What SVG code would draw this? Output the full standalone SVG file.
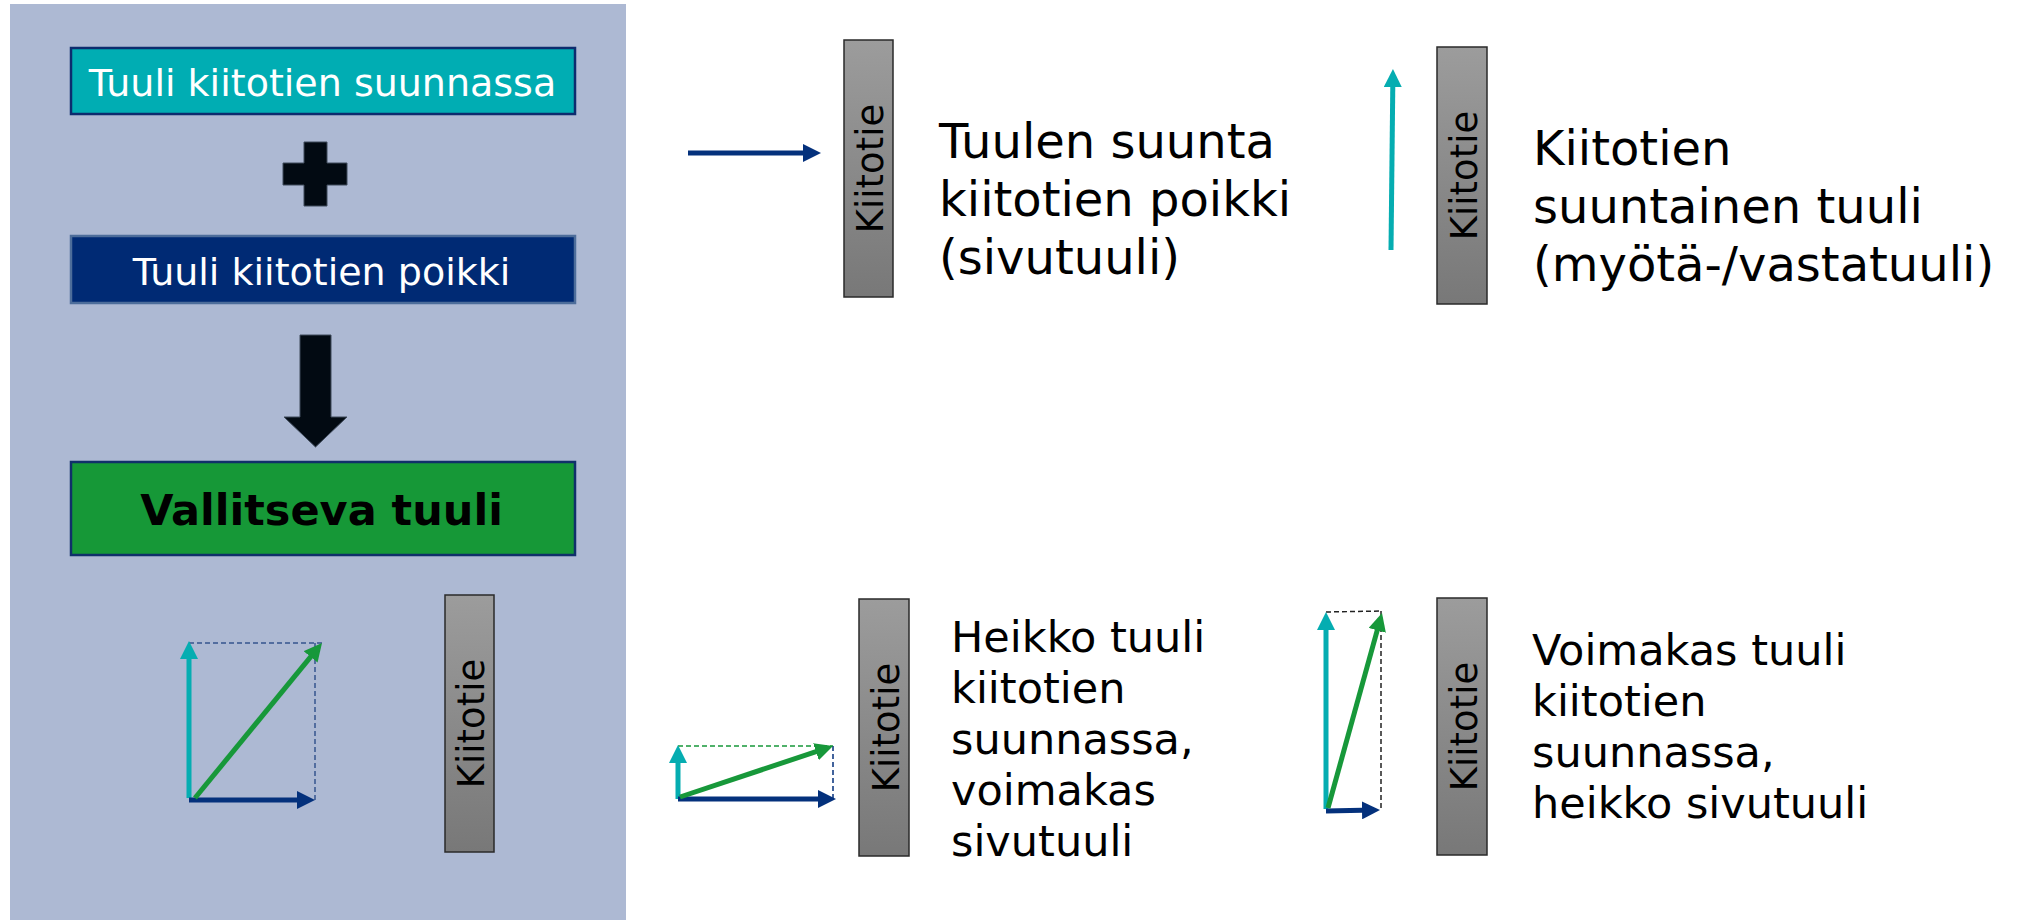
<svg xmlns="http://www.w3.org/2000/svg" width="2023" height="920" viewBox="0 0 2023 920">
  <style>
    .t { font-family: "DejaVu Sans", Verdana, sans-serif; }
    .box-text { font-size: 38px; fill: #ffffff; text-anchor: middle; }
    .big { font-size: 48px; fill: #000000; }
    .mid { font-size: 43px; fill: #000000; }
    .rw { stroke: #2a2a2a; stroke-width: 1.5; fill: url(#rwGrad); }
    .rw-text { font-size: 37px; fill: #000000; text-anchor: middle; }
    .v { fill: none; stroke-width: 5; stroke-linecap: butt; }
    .teal { stroke: #05adb1; }
    .navy { stroke: #04317c; }
    .green { stroke: #17983a; }
    .dash { fill: none; stroke-width: 1.5; stroke-dasharray: 5 3; }
  </style>
  <defs>
    <linearGradient id="rwGrad" x1="0" y1="0" x2="0" y2="1">
      <stop offset="0" stop-color="#9c9c9c"/>
      <stop offset="1" stop-color="#787878"/>
    </linearGradient>
    <marker id="hTeal" markerUnits="userSpaceOnUse" markerWidth="18" markerHeight="18" viewBox="0 0 18 18" refX="12" refY="9" orient="auto">
      <path d="M0,0 L18,9 L0,18 Z" fill="#05adb1"/>
    </marker>
    <marker id="hNavy" markerUnits="userSpaceOnUse" markerWidth="18" markerHeight="18" viewBox="0 0 18 18" refX="12" refY="9" orient="auto">
      <path d="M0,0 L18,9 L0,18 Z" fill="#04317c"/>
    </marker>
    <marker id="hGreen" markerUnits="userSpaceOnUse" markerWidth="18" markerHeight="18" viewBox="0 0 18 18" refX="12" refY="9" orient="auto">
      <path d="M0,0 L18,9 L0,18 Z" fill="#17983a"/>
    </marker>
  </defs>

  <rect x="0" y="0" width="2023" height="920" fill="#ffffff"/>

  <!-- left panel -->
  <rect id="panel" x="10" y="4" width="616" height="916" fill="#adb9d3"/>

  <g id="box-along">
    <rect x="71" y="48" width="504" height="66" fill="#00adb3" stroke="#0d2c6e" stroke-width="2.5"/>
    <text class="t box-text" x="322.5" y="96">Tuuli kiitotien suunnassa</text>
  </g>

  <g id="plus">
    <path d="M304,142 H327 V163 H347 V185 H327 V206 H304 V185 H283 V163 H304 Z" fill="#020a12" stroke="#3e4a5a" stroke-width="1"/>
  </g>

  <g id="box-cross">
    <rect x="71" y="236" width="504" height="67" fill="#002a74" stroke="#4d6d9a" stroke-width="2.5"/>
    <text class="t box-text" x="321.5" y="285">Tuuli kiitotien poikki</text>
  </g>

  <g id="result-arrow">
    <path d="M300,335 H331 V417 H347 L315.5,447 L284,417 H300 Z" fill="#020a12" stroke="#3e4a5a" stroke-width="1"/>
  </g>

  <g id="box-result">
    <rect x="71" y="462" width="504" height="93" fill="#169837" stroke="#10306a" stroke-width="2.5"/>
    <text class="t" x="321.5" y="525" font-size="43" font-weight="bold" fill="#000000" text-anchor="middle">Vallitseva tuuli</text>
  </g>

  <!-- runways -->
  <g id="runway-panel">
    <rect class="rw" x="445" y="595" width="49" height="257"/>
    <text class="t rw-text" x="469.5" y="738" transform="rotate(-90 469.5 723.5)">Kiitotie</text>
  </g>
  <g id="runway-cross">
    <rect class="rw" x="844" y="40" width="49" height="257"/>
    <text class="t rw-text" x="868.5" y="183" transform="rotate(-90 868.5 168.5)">Kiitotie</text>
  </g>
  <g id="runway-along">
    <rect class="rw" x="1437" y="47" width="50" height="257"/>
    <text class="t rw-text" x="1462" y="190" transform="rotate(-90 1462 175.5)">Kiitotie</text>
  </g>
  <g id="runway-weak">
    <rect class="rw" x="859" y="599" width="50" height="257"/>
    <text class="t rw-text" x="884" y="742" transform="rotate(-90 884 727.5)">Kiitotie</text>
  </g>
  <g id="runway-strong">
    <rect class="rw" x="1437" y="598" width="50" height="257"/>
    <text class="t rw-text" x="1462" y="741" transform="rotate(-90 1462 726.5)">Kiitotie</text>
  </g>

  <!-- captions -->
  <g id="caption-cross">
    <text class="t big" x="939" y="158">Tuulen suunta</text>
    <text class="t big" x="939" y="216">kiitotien poikki</text>
    <text class="t big" x="939" y="274">(sivutuuli)</text>
  </g>
  <g id="caption-along">
    <text class="t big" x="1533" y="165">Kiitotien</text>
    <text class="t big" x="1533" y="223">suuntainen tuuli</text>
    <text class="t big" x="1533" y="281">(myötä-/vastatuuli)</text>
  </g>
  <g id="caption-weak">
    <text class="t mid" x="951" y="652">Heikko tuuli</text>
    <text class="t mid" x="951" y="703">kiitotien</text>
    <text class="t mid" x="951" y="754">suunnassa,</text>
    <text class="t mid" x="951" y="805">voimakas</text>
    <text class="t mid" x="951" y="856">sivutuuli</text>
  </g>
  <g id="caption-strong">
    <text class="t mid" x="1532" y="665">Voimakas tuuli</text>
    <text class="t mid" x="1532" y="716">kiitotien</text>
    <text class="t mid" x="1532" y="767">suunnassa,</text>
    <text class="t mid" x="1532" y="818">heikko sivutuuli</text>
  </g>

  <!-- wind vectors -->
  <g id="connectors">
    <!-- panel: component sum -->
    <path class="dash" stroke="#34548f" d="M189,643 H322 M315,643 V800"/>
    <path class="v teal" d="M189,798 V647" marker-end="url(#hTeal)"/>
    <path class="v navy" d="M189,800 H309" marker-end="url(#hNavy)"/>
    <path class="v green" d="M195,798 L318.2,647.6" marker-end="url(#hGreen)"/>

    <!-- crosswind only -->
    <path class="v navy" d="M688,153 H815" marker-end="url(#hNavy)"/>

    <!-- along-runway only -->
    <path class="v teal" d="M1391,250 L1392.9,75" marker-end="url(#hTeal)"/>

    <!-- weak headwind, strong crosswind -->
    <path class="dash" stroke="#17983a" d="M678,746 H833"/>
    <path class="dash" stroke="#04317c" d="M833,746 V799"/>
    <path class="v teal" d="M678,799 V751" marker-end="url(#hTeal)"/>
    <path class="v navy" d="M678,799 H830" marker-end="url(#hNavy)"/>
    <path class="v green" d="M680,797 L827.3,747.9" marker-end="url(#hGreen)"/>

    <!-- strong headwind, weak crosswind -->
    <path class="dash" stroke="#222222" d="M1326,612 L1382,611 M1381,611 V810"/>
    <path class="v teal" d="M1326,809 V618" marker-end="url(#hTeal)"/>
    <path class="v navy" d="M1326,811 L1374,810.1" marker-end="url(#hNavy)"/>
    <path class="v green" d="M1328,808 L1380.4,618.8" marker-end="url(#hGreen)"/>
  </g>
</svg>
